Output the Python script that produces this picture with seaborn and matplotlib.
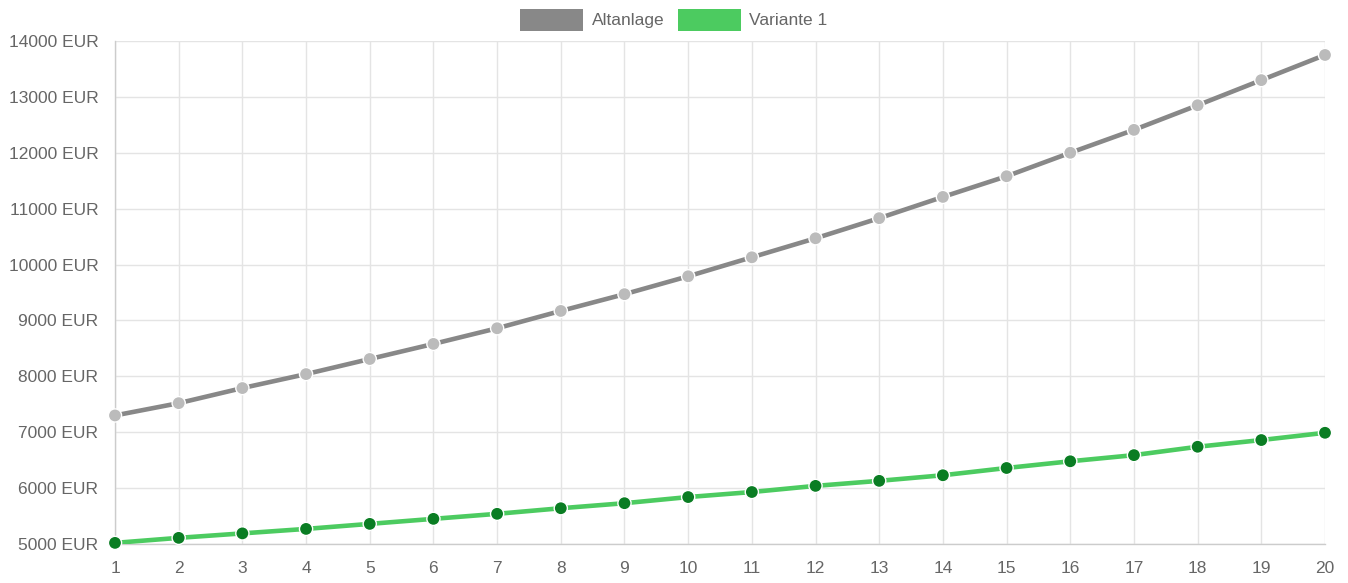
import matplotlib
matplotlib.use('Agg')
import matplotlib.pyplot as plt
from matplotlib.patches import Patch
import numpy as np
import pandas as pd
import seaborn as sns

years = list(range(1, 21))
altanlage = [7300, 7520, 7790, 8040, 8310, 8580, 8860, 9170, 9470, 9790,
             10130, 10470, 10830, 11210, 11580, 12000, 12410, 12850, 13300, 13750]
variante_1 = [5020, 5110, 5190, 5270, 5360, 5450, 5540, 5640, 5730, 5840,
              5930, 6040, 6130, 6230, 6360, 6480, 6590, 6740, 6860, 6990]
series_names = ['Altanlage', 'Variante 1']
y_ticks = list(range(5000, 14001, 1000))

line_colors = {'Altanlage': '#888888', 'Variante 1': '#4ccb60'}
point_colors = {'Altanlage': '#bbbbbb', 'Variante 1': '#0a7d23'}

df = pd.DataFrame({
    'year': years * 2,
    'cost': altanlage + variante_1,
    'series': ['Altanlage'] * len(years) + ['Variante 1'] * len(years),
})

sns.set_style('white')
plt.rcParams['font.family'] = ['Liberation Sans', 'DejaVu Sans']

fig = plt.figure(figsize=(13.48, 5.83), dpi=100)
ax = fig.add_axes([115 / 1348, 1 - 544 / 583, (1325 - 115) / 1348, (544 - 41) / 583])

sns.lineplot(data=df, x='year', y='cost', hue='series', palette=line_colors,
             linewidth=3.3, ax=ax, legend=False, zorder=3)
sns.scatterplot(data=df, x='year', y='cost', hue='series', palette=point_colors,
                s=90, edgecolor='white', linewidth=1.0, ax=ax, legend=False, zorder=4,
                clip_on=False)

ax.set_xlim(1, 20)
ax.set_ylim(5000, 14000)
ax.set_xticks(years)
ax.set_yticks(y_ticks)
ax.set_yticklabels([f'{v} EUR' for v in y_ticks])
ax.set_xlabel('')
ax.set_ylabel('')

ax.grid(True, color='#e4e4e4', linewidth=1)
ax.set_axisbelow(True)
for side in ['top', 'right']:
    ax.spines[side].set_visible(False)
for side in ['left', 'bottom']:
    ax.spines[side].set_color('#cccccc')
    ax.spines[side].set_linewidth(1)
ax.tick_params(axis='both', length=8, width=1, color='#e4e4e4',
               labelsize=12.5, labelcolor='#666666', pad=4)

handles = [Patch(facecolor=line_colors[n], edgecolor='none', label=n) for n in series_names]
fig.legend(handles=handles, loc='upper center', bbox_to_anchor=(0.5, 1.012), ncol=2,
           frameon=False, fontsize=12.5, labelcolor='#666666', handlelength=3.6,
           handleheight=1.6, handletextpad=0.5, columnspacing=0.8)

fig.savefig('out.png', dpi=100)
